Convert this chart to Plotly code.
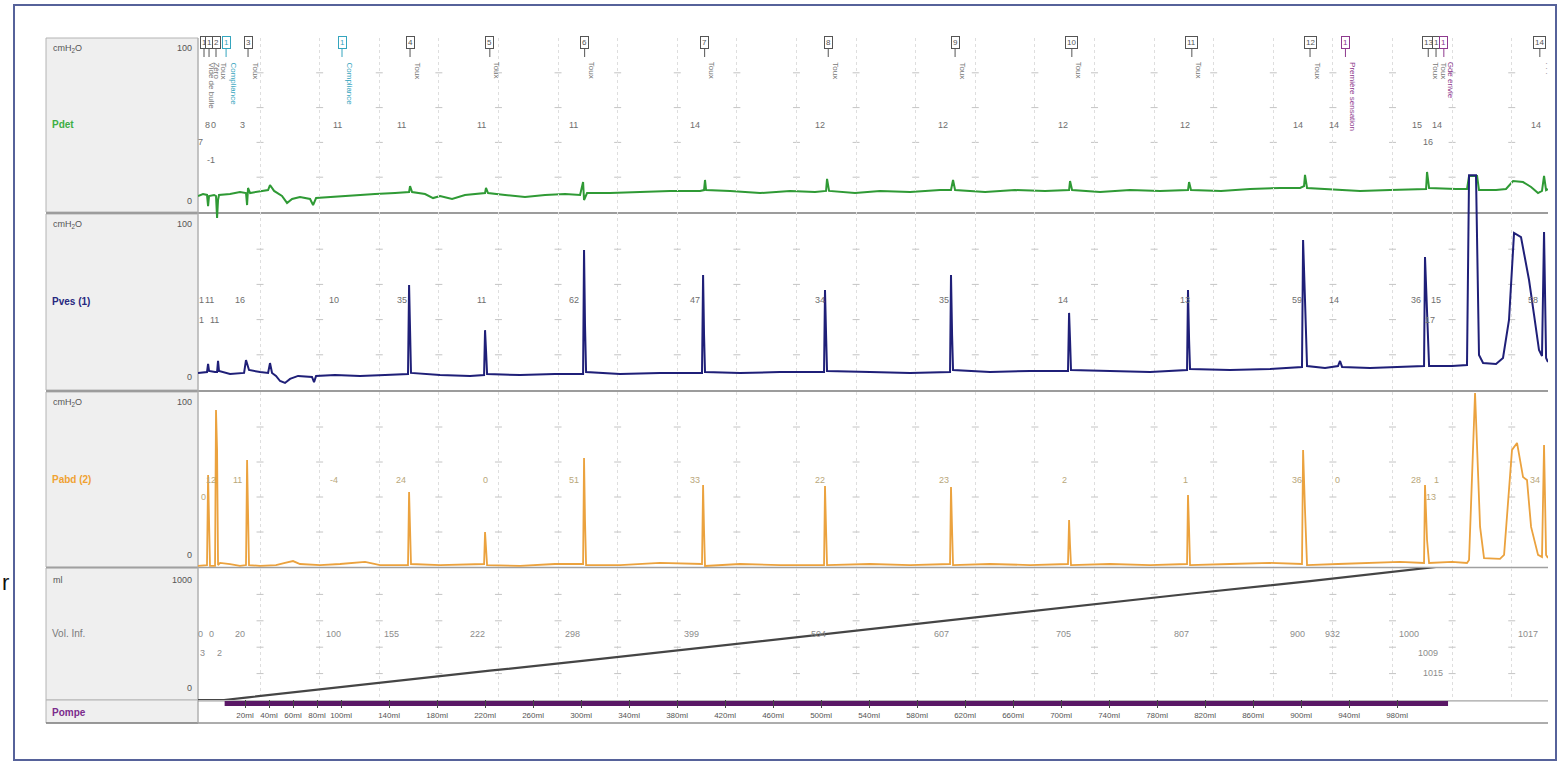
import numpy as np
import plotly.graph_objects as go

W, H = 1562, 763
def PX(p): return p / W
def PY(p): return 1 - p / H

FONT = "Liberation Sans, Arial, sans-serif"

# ---------------- data (x in ml of infused volume scale) ----------------
pdet_x = [-19.2,-15,-11.7,-10.8,-10,-5.8,-4.2,-3.3,-2.5,-1.7,
          7.5,15.8,20.8,21.7,22.5,24.2,34.2,39.2,40.8,44.2,
          50.8,55,59.2,65.8,74.2,76.7,79.2,90.8,107.5,128.3,
          145,156.7,157.5,159.2,170,176.7,182.5,192.5,203.3,220,
          220.8,222.5,236.7,253.3,270,286.7,299.2,301.7,302.5,305,
          324.2,349.2,374.2,399.2,402.5,403.3,404.2,424.2,449.2,474.2,
          495,504.2,505,506.7,528.3,549.2,574.2,599.2,608.3,610,
          611.7,636.7,661.7,686.7,706.7,707.5,709.2,732.5,757.5,782.5,
          805.8,806.7,808.3,833.3,857.5,882.5,899.2,902.5,903.3,905,
          924.2,949.2,974.2,999.2,1004.2,1005,1006.7,1029.2,1038.3,1040,
          1046.7,1048.3,1062.5,1070.8,1076.7,1085,1091.7,1097.5,1100.8,1102.5,
          1104.2,1105.8]
pdet_y = [9.2,10.3,9.8,3.4,9.2,9.8,9.2,-3.4,6.9,9.8,
          10.3,11.5,10.9,4.0,13.8,10.9,12.1,12.6,15.5,12.1,
          9.2,5.2,7.5,8.6,7.5,4.0,8.0,8.6,9.2,10.3,
          10.9,11.5,14.9,11.5,10.3,8.0,9.2,7.5,9.8,10.9,
          13.8,10.9,9.8,8.6,9.8,10.3,9.8,17.2,6.9,10.9,
          10.9,11.5,12.1,12.1,12.6,18.4,12.6,12.1,10.9,12.1,
          11.5,12.1,19.0,12.1,10.9,12.1,11.5,12.6,12.6,18.4,
          12.6,11.5,12.6,12.1,12.6,17.8,12.6,11.5,12.6,12.1,
          12.6,17.2,12.6,12.1,13.2,13.8,13.8,14.9,21.3,13.8,
          13.2,12.1,12.6,13.2,13.2,23.0,13.8,13.2,13.2,20.7,
          20.7,12.6,12.6,13.2,17.8,17.2,14.4,10.9,12.1,20.7,
          12.6,13.2]

pves_x = [-19.2,-13.3,-11.7,-10.8,-10,-5,-3.3,-2.5,-1.7,7.5,
          19.2,20.8,23.3,32.5,39.2,40.8,42.5,45.8,49.2,53.3,
          57.5,64.2,75.8,77.5,79.2,95,115.8,136.7,155.8,156.7,
          157.5,158.3,182.5,207.5,219.2,220,220.8,221.7,249.2,278.3,
          301.7,302.5,303.3,304.2,332.5,365.8,400.8,401.7,402.5,403.3,
          432.5,465.8,502.5,503.3,504.2,505,540.8,574.2,607.5,608.3,
          609.2,610,640.8,674.2,705.8,706.7,707.5,708.3,740.8,774.2,
          805,805.8,806.7,807.5,840.8,874.2,900.8,901.7,903.3,905,
          920,930.8,932.5,934.2,957.5,982.5,1002.5,1003.3,1005,1006.7,
          1025.8,1038.3,1040,1045.8,1048.3,1051.7,1062.5,1068.3,1073.3,1077.5,
          1083.3,1086.7,1090,1094.2,1098.3,1100.8,1102.5,1104.2,1105.8]
pves_y = [9.7,10.2,10.2,14.8,10.8,10.2,10.2,16.5,10.8,9.1,
          9.7,17.0,11.4,10.2,9.7,15.3,9.7,8.0,5.1,4.0,
          6.3,8.0,7.4,4.5,8.0,8.5,8.0,8.5,9.1,59.7,
          34.0,9.7,8.5,8.0,8.5,34.0,22.7,9.1,8.5,9.1,
          9.1,79.5,37.0,10.2,9.1,9.7,9.7,65.3,31.3,10.2,
          9.7,10.2,10.2,56.8,31.3,10.8,10.2,9.7,10.2,65.3,
          31.3,11.4,10.2,10.8,10.8,43.8,28.4,11.4,10.8,10.2,
          11.4,56.8,28.4,11.9,11.4,11.9,13.1,85.2,51.1,13.6,
          12.5,13.6,16.5,13.1,12.5,13.1,13.6,75.6,39.8,13.6,
          13.6,14.2,122,122,19.9,15.3,14.8,18.2,39.8,89.2,
          86.9,73.9,62.5,42.6,22.7,19.3,89.8,18.2,15.9]

pabd_x = [-19.2,-15,-11.7,-10.8,-10,-9.2,-5,-4.2,-3.3,-2.5,
          -0.8,7.5,15.8,20.8,21.7,22.5,23.3,32.5,45.8,53.3,
          60,65.8,82.5,99.2,120,132.5,155.8,156.7,157.5,158.3,
          182.5,207.5,219.2,220,220.8,221.7,249.2,278.3,301.7,302.5,
          303.3,304.2,332.5,365.8,400.8,401.7,402.5,403.3,432.5,465.8,
          502.5,503.3,504.2,505,540.8,574.2,607.5,608.3,609.2,610,
          640.8,674.2,705.8,706.7,707.5,708.3,740.8,774.2,805,805.8,
          806.7,807.5,840.8,874.2,900.8,901.7,903.3,905,930.8,957.5,
          982.5,1002.5,1003.3,1005,1006.7,1025.8,1038.3,1040,1045,1049.2,
          1052.5,1065.8,1069.2,1075.8,1080,1085,1088.3,1091.7,1097.5,1100.8,
          1102.5,1104.2,1105.8]
pabd_y = [0.6,1.1,1.1,52.6,21.0,0.6,0.6,89.7,66.9,1.1,
          2.3,1.7,0.6,1.1,61.1,26.9,1.1,0.6,1.1,2.3,
          3.4,1.7,1.1,1.7,2.9,1.1,1.1,42.9,24.0,1.7,
          1.1,1.7,1.7,20.0,12.6,1.1,0.6,1.7,1.7,62.3,
          26.9,1.1,1.1,2.3,1.7,46.9,21.1,0.6,1.7,1.1,
          1.1,46.3,21.1,1.1,1.7,1.1,1.7,45.7,21.1,1.1,
          1.7,1.1,1.7,26.9,12.6,1.1,1.7,1.1,1.7,41.1,
          21.1,1.1,1.7,2.3,1.7,66.9,32.6,1.1,1.7,2.3,
          2.9,2.3,46.9,15.4,2.3,2.9,2.3,4.0,99.4,22.9,
          5.1,4.6,6.9,66.9,70.9,51.4,49.7,22.9,6.9,5.7,
          69.7,6.9,5.1]

vol_x = [-19.2, 2.5, 22.5, 100.8, 157.5, 224, 303, 403, 506, 611.7, 709, 809,
         907.5, 937, 1003, 1012.5, 1019, 1030, 1105.8]
vol_y = [0, 0, 20, 100, 155, 222, 298, 399, 504, 607, 705, 807,
         900, 932, 1000, 1009, 1015, 1017, 1017]

pump_x = [3, 1022.5]
pump_track_x = [-19.2, 1105.8]

tick_ml = [20, 40, 60, 80, 100, 140, 180, 220, 260, 300, 340, 380, 420, 460, 500,
           540, 580, 620, 660, 700, 740, 780, 820, 860, 900, 940, 980]
tick_txt = [f"{v}ml" for v in tick_ml]

# event markers
mk_x = [-14.2, -10, -4.2, 4.2, 22.5, 100.8, 157.5, 224, 303, 403, 506, 611.7,
        709, 809, 907.5, 937, 1006, 1012.5, 1019, 1099]
mk_id = ["1", "1", "2", "1", "3", "1", "4", "5", "6", "7", "8", "9",
         "10", "11", "12", "1", "13", "1", "1", "14"]
mk_kind = ["ev", "ev", "ev", "cp", "ev", "cp", "ev", "ev", "ev", "ev", "ev", "ev",
           "ev", "ev", "ev", "se", "ev", "ev", "se", "ev"]
mk_txt = ["Vide de bulle", "Zéro", "Toux", "Compliance", "Toux", "Compliance", "Toux",
          "Toux", "Toux", "Toux", "Toux", "Toux", "Toux", "Toux", "Toux",
          "Première sensation", "Toux", "Toux", "Gde envie", "· · ·"]

# values printed at each marker (x, row, text)
pdet_lx = [-11.7, -6.7, 17.5, 96.7, 150, 216.7, 294, 395, 499, 601.7, 701.7, 803,
           897.5, 927.5, 996.7, 1013, 1096, -17.5, 1006, -8.3]
pdet_lr = [0]*17 + [1, 1, 2]
pdet_lt = ["8", "0", "3", "11", "11", "11", "11", "14", "12", "12", "12", "12",
           "14", "14", "15", "14", "14", "7", "16", "-1"]

pves_lx = [-16.7, -10, 15.8, 94, 151, 216.7, 294, 395, 499, 602.5, 701.7, 803,
           896.7, 927.5, 995.8, 1012.5, 1093, -16.7, -5.8, 1007.5]
pves_lr = [0]*17 + [1, 1, 1]
pves_lt = ["1", "11", "16", "10", "35", "11", "62", "47", "34", "35", "14", "13",
           "59", "14", "36", "15", "58", "1", "11", "17"]

pabd_lx = [-8.3, 14, 94, 150, 220, 294, 395, 499, 602.5, 702.5, 804, 896.7,
           930, 995.8, 1013, 1095, -15, 1008]
pabd_lr = [0]*16 + [1, 1]
pabd_lt = ["12", "11", "-4", "24", "0", "51", "33", "22", "23", "2", "1", "36",
           "0", "28", "1", "34", "0", "13"]

vol_lx = [-17.5, -8.3, 15.8, 93.3, 141.7, 214, 292.5, 391.7, 497.5, 600, 701.7, 800,
          896.7, 925.8, 990, 1089, -15.8, -1.7, 1006, 1010]
vol_lr = [0]*16 + [1, 1, 1, 2]
vol_lt = ["0", "0", "20", "100", "155", "222", "298", "399", "504", "607", "705", "807",
          "900", "932", "1000", "1017", "3", "2", "1009", "1015"]

# ---------------- layout geometry (pixels) ----------------
XL, XR = 198, 1548
XMIN, XMAX = -19.2, 1105.8
panels = {  # name: (top px, bottom px)
    "pdet": (38, 212), "pves": (214, 390), "pabd": (392, 567),
    "vol": (568, 700), "pompe": (700, 723)}

C_PDET = "#2f9a35"
C_PVES = "#1f1f78"
C_PABD = "#eba23e"
C_VOL = "#454545"
C_PUMP = "#5a1866"

fig = go.Figure()

# grid crosses ("+")
grid_x = list(np.arange(32.5, XMAX, 49.67))
def crosses(yaxis, levels):
    xs, ys = [], []
    for lv in levels:
        xs += grid_x
        ys += [lv]*len(grid_x)
    fig.add_trace(go.Scatter(x=xs, y=ys, xaxis="x", yaxis=yaxis, mode="markers",
                             marker=dict(symbol="line-ew", size=5,
                                         line=dict(color="#c4c4c4", width=1)),
                             hoverinfo="skip", showlegend=False))
crosses("y", [20, 40, 60, 80])
crosses("y2", [20, 40, 60, 80])
crosses("y3", [20, 40, 60, 80])
crosses("y4", [200, 400, 600, 800])

fig.add_trace(go.Scatter(x=pdet_x, y=pdet_y, xaxis="x", yaxis="y", mode="lines",
                         line=dict(color=C_PDET, width=2), showlegend=False))
fig.add_trace(go.Scatter(x=pabd_x, y=pabd_y, xaxis="x", yaxis="y3", mode="lines",
                         line=dict(color=C_PABD, width=1.8), showlegend=False))
fig.add_trace(go.Scatter(x=vol_x, y=vol_y, xaxis="x", yaxis="y4", mode="lines",
                         line=dict(color=C_VOL, width=2.2), showlegend=False))
fig.add_trace(go.Scatter(x=pves_x, y=pves_y, xaxis="x", yaxis="y2", mode="lines",
                         line=dict(color=C_PVES, width=2), showlegend=False))
fig.add_trace(go.Scatter(x=pump_track_x, y=[0.96, 0.96], xaxis="x2", yaxis="y5",
                         mode="lines", line=dict(color="#8c8c8c", width=1),
                         showlegend=False))
fig.add_trace(go.Scatter(x=pump_x, y=[0.85, 0.85], xaxis="x2", yaxis="y5",
                         mode="lines", line=dict(color=C_PUMP, width=5),
                         showlegend=False))

def dom(top, bot):
    return [PY(bot), PY(top)]

ax_common = dict(showgrid=False, zeroline=False, showticklabels=False, ticks="",
                 showline=False, fixedrange=True)
fig.update_layout(
    width=W, height=H, margin=dict(l=0, r=0, t=0, b=0),
    paper_bgcolor="white", plot_bgcolor="rgba(0,0,0,0)",
    font=dict(family=FONT, size=9, color="#555"),
    xaxis=dict(domain=[PX(XL), PX(XR)], range=[XMIN, XMAX], anchor="y4",
               showticklabels=False, ticks="", showline=False, zeroline=False,
               showgrid=False,
               minor=dict(tickmode="array", tickvals=grid_x, showgrid=True,
                          gridcolor="#dedede", griddash="dot", gridwidth=1, ticks="")),
    xaxis2=dict(domain=[PX(XL), PX(XR)], range=[XMIN, XMAX], anchor="y5", matches="x",
                side="top", tickmode="array", tickvals=tick_ml, ticktext=tick_txt,
                ticks="inside", ticklen=8, tickcolor="#444", tickwidth=1,
                ticklabelposition="inside", ticklabelstandoff=3,
                tickfont=dict(size=8, color="#555"),
                showline=False, zeroline=False, showgrid=False),
    yaxis=dict(domain=dom(38, 222), range=[-5.75, 100], **ax_common),
    yaxis2=dict(domain=dom(38, 390), range=[0, 200], **ax_common),
    yaxis3=dict(domain=dom(392, 567), range=[0, 100], **ax_common),
    yaxis4=dict(domain=dom(568, 700), range=[0, 1000], **ax_common),
    yaxis5=dict(domain=dom(700, 723), range=[0, 1], **ax_common),
)

shapes = []
# outer frame
shapes.append(dict(type="rect", xref="paper", yref="paper", x0=PX(14), x1=PX(1556),
                   y0=PY(760), y1=PY(5), line=dict(color="#56629a", width=2),
                   fillcolor="rgba(0,0,0,0)", layer="above"))
# left label boxes
for name, (t, b) in panels.items():
    shapes.append(dict(type="rect", xref="paper", yref="paper", x0=PX(46), x1=PX(XL),
                       y0=PY(b), y1=PY(t), fillcolor="#efefef",
                       line=dict(color="#b4b4b4", width=1), layer="below"))
# separators
for yy, col, wd in [(213, "#9c9c9c", 2), (391, "#9c9c9c", 2), (567.5, "#a0a0a0", 1.5),
                    (723, "#5a5a5a", 1)]:
    shapes.append(dict(type="line", xref="paper", yref="paper", x0=PX(46), x1=PX(XR),
                       y0=PY(yy), y1=PY(yy), line=dict(color=col, width=wd), layer="below"))
shapes.append(dict(type="line", xref="paper", yref="paper", x0=PX(XL), x1=PX(XL),
                   y0=PY(723), y1=PY(38), line=dict(color="#b0b0b0", width=1), layer="below"))
fig.update_layout(shapes=shapes)

ann = []
def lab(x, y, text, anchor="left", size=9, color="#555", bold=False):
    ann.append(dict(xref="paper", yref="paper", x=PX(x), y=PY(y), text=f"<b>{text}</b>" if bold else text,
                    showarrow=False, xanchor=anchor, yanchor="middle",
                    font=dict(size=size, color=color, family=FONT)))

# left panel labels
for t, nm, col, unit, top_v in [(38, "Pdet", "#3cae45", "cmH<sub>2</sub>O", "100"),
                                (214, "Pves (1)", "#27277f", "cmH<sub>2</sub>O", "100"),
                                (392, "Pabd (2)", "#f0a232", "cmH<sub>2</sub>O", "100")]:
    lab(51, t + 10, unit)
    lab(194, t + 10, top_v, anchor="right")
    lab(194, t + 163, "0", anchor="right")
    lab(50, t + 87, nm, size=10, color=col, bold=True)
lab(51, 580, "ml")
lab(194, 580, "1000", anchor="right")
lab(194, 688, "0", anchor="right")
lab(50, 633, "Vol. Inf.", size=10, color="#7a7a7a")
lab(50, 712, "Pompe", size=10, color="#7b2b8c", bold=True)

# artifact at left edge
ann.append(dict(xref="paper", yref="paper", x=PX(0), y=PY(582), text="r", showarrow=False,
                xanchor="left", yanchor="middle", font=dict(size=22, color="#111", family=FONT)))

# event markers
kcol = {"ev": "#555555", "cp": "#35a5be", "se": "#8e3a8e"}
for x, i, k, t in zip(mk_x, mk_id, mk_kind, mk_txt):
    c = kcol[k]
    ann.append(dict(xref="x", yref="paper", x=x, y=PY(57), text=i, showarrow=True,
                    arrowhead=0, arrowwidth=1, arrowcolor=c, ax=0, ay=-15,
                    bordercolor=c, borderwidth=1, borderpad=1, bgcolor="white",
                    font=dict(size=8, color=c, family=FONT)))
    ann.append(dict(xref="x", yref="paper", x=x, y=PY(60), xshift=7, text=t,
                    showarrow=False, textangle=90, xanchor="center", yanchor="top",
                    font=dict(size=8, color="#777" if k == "ev" else c, family=FONT)))

def vals(xs, rows, texts, yref, levels, color):
    for x, r, t in zip(xs, rows, texts):
        ann.append(dict(xref="x", yref=yref, x=x, y=levels[r], text=t, showarrow=False,
                        xanchor="center", yanchor="middle",
                        font=dict(size=9, color=color, family=FONT)))

vals(pdet_lx, pdet_lr, pdet_lt, "y", [50, 40, 30], "#6e6e6e")
vals(pves_lx, pves_lr, pves_lt, "y2", [51, 40, 30], "#6e6e6e")
vals(pabd_lx, pabd_lr, pabd_lt, "y3", [50, 40, 30], "#b9a77a")
vals(vol_lx, vol_lr, vol_lt, "y4", [500, 355, 205], "#8c8c8c")

fig.update_layout(annotations=ann)
fig.write_html("out.html")
